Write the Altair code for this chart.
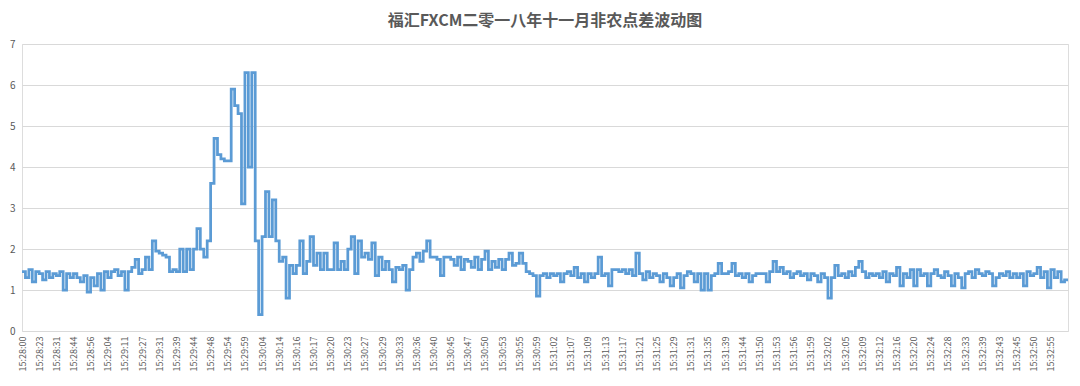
import json
import altair as alt
import pandas as pd

TITLE = "福汇FXCM二零一八年十一月非农点差波动图"

# category tick labels (every 5th sample is labelled)
tick_labels = [
    "15:28:00", "15:28:23", "15:28:31", "15:28:44", "15:28:56", "15:29:04",
    "15:29:11", "15:29:27", "15:29:31", "15:29:39", "15:29:44", "15:29:48",
    "15:29:54", "15:29:59", "15:30:04", "15:30:14", "15:30:16", "15:30:17",
    "15:30:20", "15:30:23", "15:30:27", "15:30:29", "15:30:33", "15:30:36",
    "15:30:40", "15:30:45", "15:30:47", "15:30:50", "15:30:53", "15:30:55",
    "15:30:59", "15:31:02", "15:31:07", "15:31:09", "15:31:13", "15:31:17",
    "15:31:21", "15:31:25", "15:31:29", "15:31:31", "15:31:35", "15:31:39",
    "15:31:44", "15:31:50", "15:31:53", "15:31:56", "15:31:59", "15:32:02",
    "15:32:05", "15:32:09", "15:32:12", "15:32:16", "15:32:20", "15:32:24",
    "15:32:28", "15:32:33", "15:32:39", "15:32:43", "15:32:45", "15:32:50",
    "15:32:55",
]

# spread values, five samples per labelled interval
spread_28 = [
    1.45, 1.3, 1.5, 1.2, 1.45,
    1.4, 1.25, 1.45, 1.3, 1.4,
    1.35, 1.45, 1.0, 1.4, 1.3,
    1.4, 1.3, 1.2, 1.35, 0.95,
    1.3, 1.1, 1.4, 1.0, 1.45,
]
spread_29 = [
    1.3, 1.45, 1.5, 1.35, 1.45,
    1.0, 1.45, 1.55, 1.75, 1.4,
    1.5, 1.8, 1.5, 2.2, 1.95,
    1.9, 1.85, 1.8, 1.45, 1.5,
    1.45, 2.0, 1.45, 2.0, 1.5,
    2.0, 2.5, 2.0, 1.8, 2.2,
    3.6, 4.7, 4.3, 4.2, 4.15,
    4.15, 5.9, 5.5, 5.3, 3.1,
    6.3, 4.0, 6.3, 2.2, 0.4,
]
spread_30 = [
    2.3, 3.4, 2.3, 3.2, 2.2,
    1.7, 1.8, 0.8, 1.6, 1.4,
    1.6, 2.2, 1.4, 1.7, 2.3,
    1.6, 1.9, 1.5, 1.9, 1.5,
    1.5, 2.15, 1.5, 1.7, 1.5,
    2.0, 2.3, 1.4, 2.2, 1.8,
    1.9, 1.75, 2.15, 1.35, 1.8,
    1.5, 1.7, 1.5, 1.2, 1.55,
    1.5, 1.6, 1.0, 1.5, 1.8,
    1.9, 1.7, 1.95, 2.2, 1.8,
    1.8, 1.75, 1.35, 1.8, 1.8,
    1.75, 1.6, 1.8, 1.5, 1.75,
    1.7, 1.55, 1.8, 1.5, 1.75,
    1.95, 1.5, 1.7, 1.55, 1.75,
    1.5, 1.75, 1.9, 1.6, 1.65,
    1.9, 1.65, 1.45, 1.4, 1.35,
]
spread_31 = [
    0.85, 1.35, 1.4, 1.3, 1.4,
    1.35, 1.4, 1.2, 1.4, 1.45,
    1.35, 1.55, 1.3, 1.4, 1.2,
    1.4, 1.3, 1.4, 1.8, 1.35,
    1.4, 1.1, 1.5, 1.5, 1.45,
    1.5, 1.4, 1.5, 1.35, 1.9,
    1.4, 1.25, 1.45, 1.3, 1.4,
    1.35, 1.2, 1.4, 1.3, 1.1,
    1.3, 1.4, 1.05, 1.35, 1.45,
    1.4, 1.2, 1.4, 1.0, 1.4,
    1.0, 1.35, 1.4, 1.65, 1.4,
    1.4, 1.45, 1.65, 1.35, 1.4,
    1.3, 1.4, 1.2, 1.35, 1.4,
    1.4, 1.4, 1.2, 1.45, 1.7,
    1.45, 1.55, 1.4, 1.45, 1.3,
    1.4, 1.45, 1.35, 1.4, 1.25,
    1.4, 1.35, 1.2, 1.4, 1.3,
]
spread_32 = [
    0.8, 1.3, 1.6, 1.35, 1.4,
    1.3, 1.45, 1.35, 1.55, 1.7,
    1.45, 1.3, 1.4, 1.35, 1.4,
    1.3, 1.45, 1.2, 1.4, 1.35,
    1.55, 1.1, 1.4, 1.3, 1.5,
    1.1, 1.5, 1.35, 1.4, 1.1,
    1.4, 1.5, 1.35, 1.3, 1.45,
    1.35, 1.1, 1.4, 1.3, 1.05,
    1.4, 1.45, 1.3, 1.5, 1.4,
    1.35, 1.45, 1.4, 1.1, 1.3,
    1.4, 1.35, 1.45, 1.3, 1.4,
    1.3, 1.4, 1.1, 1.45, 1.35,
    1.4, 1.55, 1.3, 1.45, 1.05,
    1.5, 1.3, 1.45, 1.2, 1.25,
    1.25,
]

spread = spread_28 + spread_29 + spread_30 + spread_31 + spread_32
STEP = 5

df = pd.DataFrame({"idx": list(range(len(spread))), "spread": spread})

label_expr = f"{json.dumps(tick_labels)}[round(datum.value / {STEP})]"
tick_vals = [i * STEP for i in range(len(tick_labels))]

chart = (
    alt.Chart(df)
    .mark_line(color="#5B9BD5", strokeWidth=2.75, interpolate="step-after")
    .encode(
        x=alt.X(
            "idx:Q",
            scale=alt.Scale(domain=[0, len(spread) - 1], nice=False, zero=False),
            axis=alt.Axis(
                values=tick_vals,
                labelExpr=label_expr,
                labelAngle=-90,
                labelFontSize=9,
                labelColor="#595959",
                labelFont="Noto Sans CJK SC",
                labelPadding=5,
                ticks=False,
                grid=False,
                domain=False,
                title=None,
                labelOverlap=False,
                labelFlush=False,
            ),
        ),
        y=alt.Y(
            "spread:Q",
            scale=alt.Scale(domain=[0, 7], nice=False),
            axis=alt.Axis(
                values=[0, 1, 2, 3, 4, 5, 6, 7],
                labelFontSize=10,
                labelColor="#595959",
                labelFont="Noto Sans CJK SC",
                labelPadding=7,
                ticks=False,
                domain=False,
                gridColor="#D9D9D9",
                gridWidth=1,
                title=None,
            ),
        ),
    )
    .properties(
        width=1046,
        height=287,
        autosize=alt.AutoSizeParams(type="none"),
        padding={"left": 14, "top": 36, "right": 4, "bottom": 47},
        title=alt.TitleParams(
            TITLE,
            font="Noto Sans CJK SC",
            fontSize=16,
            fontWeight="bold",
            color="#595959",
            anchor="middle",
            offset=10,
        ),
    )
    .configure_view(stroke=None)
    .configure(background="white")
)

chart.save("out.html", embed_options={"renderer": "svg", "actions": False})
